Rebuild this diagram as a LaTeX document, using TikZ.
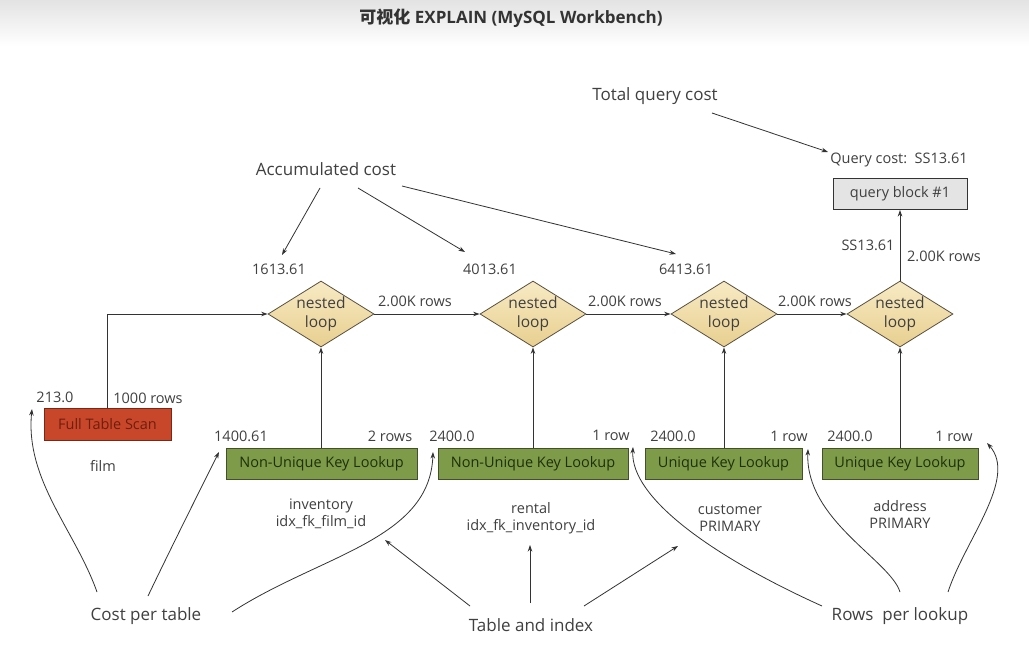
\documentclass[tikz,border=0pt]{standalone}
\usepackage{fontspec}
\setmainfont{Open Sans}
\newfontfamily\cjk{Noto Sans CJK SC}
\usetikzlibrary{shapes.geometric,arrows.meta}
\definecolor{txt}{HTML}{404040}
\definecolor{lc}{HTML}{333333}
\definecolor{tanT}{HTML}{F7EAC4}
\definecolor{tanB}{HTML}{E8CF8F}
\definecolor{dline}{HTML}{5A5040}
\definecolor{gfill}{HTML}{7E9B4A}
\definecolor{gline}{HTML}{44502C}
\definecolor{gtxt}{HTML}{1E300A}
\definecolor{rfill}{HTML}{C8472B}
\definecolor{rline}{HTML}{7A2814}
\definecolor{rtxt}{HTML}{6E1E0C}
\definecolor{qfill}{HTML}{E4E4E4}
\begin{document}
\begin{tikzpicture}[x=1pt,y=-1pt,
  lbl/.style={font=\fontsize{14.5}{17}\selectfont, text=txt, inner sep=0pt},
  big/.style={font=\fontsize{17}{20}\selectfont, text=txt, inner sep=0pt},
  two/.style={lbl, align=center, font=\fontsize{14.5}{17}\selectfont},
  nl/.style={diamond, draw=dline, line width=0.8pt, top color=tanT, bottom color=tanB,
     minimum width=106pt, minimum height=66pt, inner sep=0pt, aspect=1.6, align=center,
     font=\fontsize{15.5}{19}\selectfont, text=txt},
  gbox/.style={draw=gline, line width=0.9pt, fill=gfill, minimum height=31pt, inner sep=0pt,
     font=\fontsize{14.5}{17}\selectfont, text=gtxt},
  arr/.style={draw=lc, line width=0.9pt, -{Stealth[length=6.5pt,width=4.5pt]}},
  ann/.style={draw=lc, line width=0.8pt, -{Stealth[length=6.5pt,width=4.5pt]}}
]
\useasboundingbox (0,0) rectangle (1029,647);
\fill[white] (0,0) rectangle (1029,647);
\shade[top color=black!11, bottom color=white] (0,0) rectangle (1029,46);

\node[inner sep=0pt, text=black!80, font=\fontsize{17}{19}\selectfont\bfseries] (title) at (511,18) {{\cjk 可视化} EXPLAIN (MySQL Workbench)};

% top
\node[big] (total) at (655,96) {Total query cost};
\node[lbl] (qcost) at (899,160) {Query cost:\ \ SS13.61};
\node[draw=lc, line width=0.9pt, fill=qfill, minimum width=134pt, minimum height=31pt, inner sep=0pt,
      font=\fontsize{14.5}{17}\selectfont, text=txt] (qb) at (900,194) {query block \#1};
\node[big] (acc) at (326,169) {Accumulated cost};

% diamonds
\node[nl] (d1) at (321,314) {nested\\loop};
\node[nl] (d2) at (533,314) {nested\\loop};
\node[nl] (d3) at (724,314) {nested\\loop};
\node[nl] (d4) at (900,314) {nested\\loop};

\node[lbl] (c1) at (279,269) {1613.61};
\node[lbl] (c2) at (490,269) {4013.61};
\node[lbl] (c3) at (686,269) {6413.61};
\node[lbl] (r12) at (415,301) {2.00K rows};
\node[lbl] (r23) at (625,301) {2.00K rows};
\node[lbl] (r34) at (815,301) {2.00K rows};
\node[lbl] (ss) at (868,245) {SS13.61};
\node[lbl] (rq) at (944,256) {2.00K rows};

% film
\node[draw=rline, line width=0.9pt, fill=rfill, minimum width=127pt, minimum height=32pt, inner sep=0pt,
      font=\fontsize{14.5}{17}\selectfont, text=rtxt] (film) at (107.5,424) {Full Table Scan};
\node[lbl] (f213) at (55,397) {213.0};
\node[lbl] (f1000) at (148,398) {1000 rows};
\node[lbl] (filmlbl) at (103,466) {film};

% lookups
\node[gbox, minimum width=191pt] (g1) at (321.5,463.5) {Non-Unique Key Lookup};
\node[gbox, minimum width=190pt] (g2) at (533,463.5) {Non-Unique Key Lookup};
\node[gbox, minimum width=157pt] (g3) at (723.5,463.5) {Unique Key Lookup};
\node[gbox, minimum width=156pt] (g4) at (900,463.5) {Unique Key Lookup};

\node[lbl] (k1) at (241,436) {1400.61};
\node[lbl] (n1) at (390,436) {2 rows};
\node[lbl] (k2) at (452,436) {2400.0};
\node[lbl] (n2) at (611,435) {1 row};
\node[lbl] (k3) at (673,436) {2400.0};
\node[lbl] (n3) at (789,436) {1 row};
\node[lbl] (k4) at (850,436) {2400.0};
\node[lbl] (n4) at (954,436) {1 row};

\node[two] (t1) at (321,514) {inventory\\idx\_fk\_film\_id};
\node[two] (t2) at (531,518) {rental\\idx\_fk\_inventory\_id};
\node[two] (t3) at (730,518) {customer\\PRIMARY};
\node[two] (t4) at (900,514) {address\\PRIMARY};

\node[big] (cpt) at (146,616) {Cost per table};
\node[big] (ti) at (531,625) {Table and index};
\node[big] (rpl) at (900,616) {Rows\ \ per lookup};

% main flow
\draw[arr] (film.north) |- (d1.west);
\draw[arr] (d1.east) -- (d2.west);
\draw[arr] (d2.east) -- (d3.west);
\draw[arr] (d3.east) -- (d4.west);
\draw[arr] (d4.north) -- (qb.south);
\draw[arr] (g1.north -| d1.south) -- (d1.south);
\draw[arr] (g2.north -| d2.south) -- (d2.south);
\draw[arr] (g3.north -| d3.south) -- (d3.south);
\draw[arr] (g4.north -| d4.south) -- (d4.south);

% annotation points
\coordinate (tq0) at (712,113);   \coordinate (tq1) at (828,152);
\coordinate (a10) at (320,188);   \coordinate (a11) at (282,255);
\coordinate (a20) at (358,188);   \coordinate (a21) at (465,252);
\coordinate (a30) at (402,186);   \coordinate (a31) at (676,254);
\coordinate (p10) at (97,592);    \coordinate (p11) at (32,409);
\coordinate (p20) at (148,596);   \coordinate (p21) at (219,452);
\coordinate (p30) at (232,612);   \coordinate (p31) at (433,452);
\coordinate (i10) at (470,606);   \coordinate (i11) at (385,540);
\coordinate (i20) at (530,603);   \coordinate (i21) at (530,545);
\coordinate (i30) at (584,606);   \coordinate (i31) at (678,546);
\coordinate (w10) at (822,606);   \coordinate (w11) at (633,447);
\coordinate (w20) at (900,592);   \coordinate (w21) at (808,449);
\coordinate (w30) at (948,592);   \coordinate (w31) at (987,443);

\draw[ann] (tq0) -- (tq1);
\draw[ann] (a10) -- (a11);
\draw[ann] (a20) -- (a21);
\draw[ann] (a30) -- (a31);
\draw[ann] (p10) .. controls (75,530) and (25,480) .. (p11);
\draw[ann] (p20) .. controls (170,550) and (200,490) .. (p21);
\draw[ann] (p30) .. controls (320,555) and (430,540) .. (p31);
\draw[ann] (i10) -- (i11);
\draw[ann] (i20) -- (i21);
\draw[ann] (i30) -- (i31);
\draw[ann] (w10) .. controls (720,560) and (630,500) .. (w11);
\draw[ann] (w20) .. controls (890,560) and (805,520) .. (w21);
\draw[ann] (w30) .. controls (965,540) and (1018,478) .. (w31);
\end{tikzpicture}
\end{document}
